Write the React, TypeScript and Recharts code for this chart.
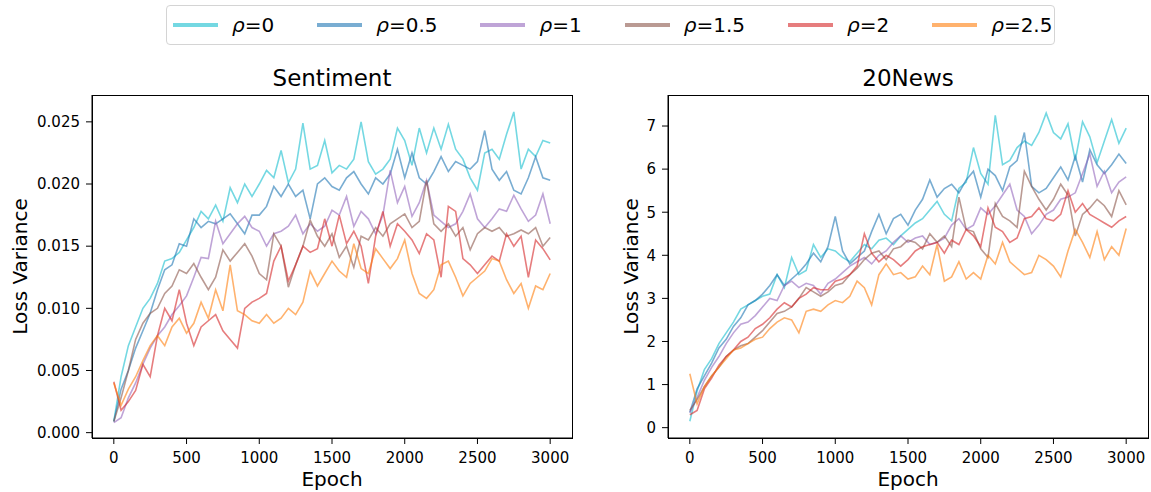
import { LineChart, Line, XAxis, YAxis } from "recharts"

const epochs = [
  0, 50, 100, 150, 200, 250, 300, 350, 400, 450,
  500, 550, 600, 650, 700, 750, 800, 850, 900, 950,
  1000, 1050, 1100, 1150, 1200, 1250, 1300, 1350, 1400, 1450,
  1500, 1550, 1600, 1650, 1700, 1750, 1800, 1850, 1900, 1950,
  2000, 2050, 2100, 2150, 2200, 2250, 2300, 2350, 2400, 2450,
  2500, 2550, 2600, 2650, 2700, 2750, 2800, 2850, 2900, 2950, 3000,
]

const rhoLabels = ["0", "0.5", "1", "1.5", "2", "2.5"]
const seriesColors = ["#17becf", "#1f77b4", "#9467bd", "#8c564b", "#d62728", "#ff7f0e"]

const xTicks = [0, 500, 1000, 1500, 2000, 2500, 3000]
const sentimentTicks = [0, 0.005, 0.01, 0.015, 0.02, 0.025]
const newsTicks = [0, 1, 2, 3, 4, 5, 6, 7]

// Sentiment
const sentimentRho0 = [
  0.0009, 0.0045, 0.007, 0.0085, 0.01, 0.0108, 0.012, 0.0138, 0.014, 0.0145,
  0.0155, 0.0165, 0.0178, 0.0172, 0.0183, 0.017, 0.0197, 0.0185, 0.02, 0.019,
  0.02, 0.0211, 0.0205, 0.0227, 0.0201, 0.0212, 0.0249, 0.0212, 0.0215, 0.0235,
  0.0209, 0.0215, 0.0212, 0.022, 0.025, 0.0218, 0.0208, 0.0212, 0.022, 0.0245,
  0.0235, 0.0215, 0.0245, 0.0225, 0.0245, 0.0228, 0.0248, 0.0228, 0.022, 0.0205,
  0.0195, 0.0225, 0.0228, 0.022, 0.024, 0.0258, 0.0212, 0.0228, 0.0222, 0.0235, 0.0233,
]
const sentimentRho05 = [
  0.0009, 0.0035, 0.005, 0.0068, 0.0082, 0.0096, 0.0115, 0.0131, 0.0135, 0.0152,
  0.015, 0.0172, 0.0165, 0.017, 0.0168, 0.0172, 0.0176, 0.0168, 0.016, 0.0175,
  0.0175, 0.0182, 0.0198, 0.019, 0.02, 0.019, 0.0195, 0.0172, 0.02, 0.0205,
  0.0198, 0.0195, 0.0205, 0.021, 0.02, 0.0192, 0.0205, 0.02, 0.0208, 0.0228,
  0.0205, 0.0225, 0.0205, 0.02, 0.021, 0.0222, 0.021, 0.0218, 0.0215, 0.0212,
  0.0218, 0.0243, 0.0212, 0.0203, 0.021, 0.0195, 0.0192, 0.0205, 0.0222, 0.0205, 0.0203,
]
const sentimentRho1 = [
  0.0008, 0.0012, 0.0028, 0.004, 0.0055, 0.0068, 0.0078, 0.0085, 0.0095, 0.0102,
  0.011, 0.0125, 0.0141, 0.014, 0.017, 0.0152, 0.016, 0.0168, 0.0174, 0.0165,
  0.0162, 0.015, 0.016, 0.0162, 0.0166, 0.0175, 0.016, 0.0168, 0.0162, 0.0166,
  0.0179, 0.0175, 0.019, 0.0166, 0.0178, 0.0172, 0.016, 0.0175, 0.0211, 0.0185,
  0.0198, 0.0174, 0.0185, 0.0203, 0.0175, 0.017, 0.0165, 0.0168, 0.0178, 0.0192,
  0.0172, 0.0165, 0.0172, 0.018, 0.0178, 0.0191, 0.018, 0.017, 0.0175, 0.0192, 0.0168,
]
const sentimentRho15 = [
  0.0009, 0.0028, 0.005, 0.0075, 0.0088, 0.0096, 0.01, 0.0112, 0.0118, 0.0131,
  0.0128, 0.0136, 0.0125, 0.0115, 0.0125, 0.0147, 0.0138, 0.0145, 0.0152, 0.0142,
  0.0128, 0.0123, 0.016, 0.015, 0.0117, 0.0135, 0.015, 0.0171, 0.0158, 0.015,
  0.016, 0.0141, 0.015, 0.0133, 0.0158, 0.0155, 0.0165, 0.0158, 0.0168, 0.0172,
  0.0176, 0.0165, 0.017, 0.0203, 0.0168, 0.0162, 0.0168, 0.0158, 0.0165, 0.0147,
  0.016, 0.0165, 0.0162, 0.0165, 0.0158, 0.016, 0.0163, 0.016, 0.0165, 0.015, 0.0157,
]
const sentimentRho2 = [
  0.0041, 0.0018, 0.0025, 0.0034, 0.0055, 0.0045, 0.0078, 0.01, 0.009, 0.0115,
  0.0088, 0.007, 0.0085, 0.009, 0.0095, 0.0082, 0.0075, 0.0068, 0.01, 0.0105,
  0.0108, 0.0112, 0.0138, 0.015, 0.0122, 0.0135, 0.015, 0.0145, 0.0148, 0.0172,
  0.015, 0.0175, 0.0152, 0.0162, 0.015, 0.012, 0.0158, 0.0178, 0.015, 0.0168,
  0.0162, 0.0155, 0.0144, 0.016, 0.0155, 0.0125, 0.0182, 0.0178, 0.014, 0.0135,
  0.0128, 0.0135, 0.0142, 0.0138, 0.016, 0.015, 0.0158, 0.0125, 0.0155, 0.0148, 0.0139,
]
const sentimentRho25 = [
  0.004, 0.0022, 0.0035, 0.0045, 0.0058, 0.007, 0.0078, 0.007, 0.0085, 0.0092,
  0.008, 0.0088, 0.0105, 0.0092, 0.0115, 0.0098, 0.0135, 0.0098, 0.0095, 0.009,
  0.0088, 0.0095, 0.0088, 0.0092, 0.01, 0.0095, 0.0105, 0.013, 0.0118, 0.0128,
  0.0138, 0.013, 0.0125, 0.0152, 0.0132, 0.0128, 0.0148, 0.014, 0.0132, 0.014,
  0.0155, 0.0128, 0.0112, 0.0108, 0.0115, 0.0135, 0.0138, 0.0125, 0.011, 0.012,
  0.0125, 0.013, 0.014, 0.0138, 0.0123, 0.0112, 0.012, 0.01, 0.0118, 0.0115, 0.0128,
]

// 20News
const newsRho0 = [
  0.15, 0.85, 1.35, 1.6, 1.95, 2.2, 2.45, 2.75, 2.85, 2.95,
  3.05, 3.1, 3.55, 3.25, 3.95, 3.55, 3.65, 4.25, 3.95, 4.15,
  4.1, 3.95, 3.85, 4.05, 4.25, 4.15, 4.35, 4.4, 4.25, 4.45,
  4.6, 4.75, 4.85, 5.05, 5.25, 4.95, 4.8, 5.55, 5.7, 6.5,
  5.9, 5.65, 7.25, 6.1, 6.2, 6.5, 6.65, 6.55, 6.85, 7.3,
  6.85, 6.7, 7.05, 6.2, 7.1, 6.75, 6.15, 6.65, 7.15, 6.6, 6.95,
]
const newsRho05 = [
  0.35, 0.9, 1.2, 1.5, 1.85, 2.05, 2.35, 2.55, 2.85, 2.95,
  3.1, 3.3, 3.55, 3.3, 3.45, 3.6, 3.8, 4.05, 3.85, 4.2,
  4.9, 4.1, 3.8, 3.95, 4.1, 4.55, 4.95, 4.5, 4.85, 4.95,
  4.7, 5.05, 5.3, 5.75, 5.35, 5.55, 5.65, 5.45, 5.75, 5.95,
  5.35, 6.0, 5.85, 5.5, 6.05, 6.2, 6.85, 5.6, 5.45, 5.55,
  5.8, 6.05, 5.75, 6.3, 5.7, 6.45, 6.1, 5.9, 6.1, 6.35, 6.13,
]
const newsRho1 = [
  0.35, 0.7, 1.1, 1.4, 1.65, 1.95, 2.2, 2.4, 2.45, 2.6,
  2.8, 3.0, 2.95, 3.3, 3.4, 3.25, 3.35, 3.3, 3.1, 3.35,
  3.45, 3.6, 3.75, 3.85, 3.95, 3.8, 4.0, 4.1, 4.3, 4.45,
  4.3, 4.4, 4.45, 4.25, 4.3, 4.4, 4.7, 4.85, 4.6, 4.7,
  5.1, 4.95, 5.15, 5.4, 5.65, 5.05, 4.9, 4.5, 4.7, 4.95,
  5.05, 5.3, 5.35, 5.45, 5.9, 6.35, 5.6, 5.95, 5.45, 5.7, 5.82,
]
const newsRho15 = [
  0.4, 0.65, 0.95, 1.2, 1.4, 1.65, 1.8, 1.9, 1.95, 2.1,
  2.25, 2.45, 2.65, 2.7, 2.8, 3.0, 3.25, 3.15, 3.05, 3.15,
  3.3, 3.35, 3.55, 3.7, 3.9, 4.05, 4.1, 3.9, 4.15, 4.2,
  4.35, 4.3, 4.15, 4.5, 4.3, 4.45, 4.2, 5.35, 4.6, 4.55,
  4.15, 3.95, 5.2, 4.9, 4.8, 4.65, 5.95, 5.6, 5.3, 5.05,
  5.3, 5.65, 5.4, 4.45, 4.95, 5.1, 5.3, 5.15, 4.9, 5.5, 5.17,
]
const newsRho2 = [
  0.3, 0.4, 0.9, 1.15, 1.45, 1.65, 1.8, 2.0, 2.1, 2.3,
  2.4, 2.55, 2.75, 2.9, 2.8, 3.0, 3.1, 3.25, 3.2, 3.2,
  3.4, 3.45, 3.55, 3.75, 4.5, 4.05, 3.85, 4.0, 3.9, 3.75,
  3.9, 4.1, 4.2, 4.25, 4.3, 4.05, 4.35, 4.25, 4.6, 4.45,
  4.2, 5.1, 4.65, 4.55, 4.3, 4.4, 4.85, 4.9, 5.1, 4.85,
  4.8, 4.95, 5.5, 5.0, 5.2, 4.95, 4.85, 4.75, 4.65, 4.8, 4.9,
]
const newsRho25 = [
  1.25, 0.55, 0.95, 1.2, 1.4, 1.6, 1.8, 1.85, 1.95, 2.05,
  2.1, 2.3, 2.45, 2.55, 2.5, 2.2, 2.7, 2.75, 2.7, 2.85,
  2.95, 2.9, 3.05, 3.4, 3.25, 2.85, 3.55, 3.8, 3.55, 3.6,
  3.45, 3.5, 3.75, 3.55, 4.25, 3.4, 3.5, 3.85, 3.45, 3.6,
  3.45, 4.0, 3.8, 4.3, 3.85, 3.7, 3.55, 3.6, 4.0, 3.9,
  3.75, 3.5, 4.1, 4.6, 4.3, 3.95, 4.55, 3.9, 4.2, 4.0, 4.62,
]

const sentimentSeries = [sentimentRho0, sentimentRho05, sentimentRho1, sentimentRho15, sentimentRho2, sentimentRho25]
const newsSeries = [newsRho0, newsRho05, newsRho1, newsRho15, newsRho2, newsRho25]

function buildRows(series: number[][]) {
  return epochs.map((epoch, i) => {
    const row: Record<string, number> = { epoch }
    series.forEach((values, k) => {
      row[`s${k}`] = values[i]
    })
    return row
  })
}

const sentimentData = buildRows(sentimentSeries)
const newsData = buildRows(newsSeries)

const tickStyle = { fill: "#000", fontSize: 15 }
const black = { stroke: "#000" }

type PanelProps = {
  left: number
  width: number
  marginRight: number
  data: Record<string, number>[]
  yDomain: [number, number]
  yTicks: number[]
  yFormat: (v: number) => string
}

function Panel({ left, width, marginRight, data, yDomain, yTicks, yFormat }: PanelProps) {
  return (
    <div style={{ position: "absolute", left, top: 0 }}>
      <LineChart width={width} height={492} data={data} margin={{ top: 95, right: marginRight, bottom: 24, left: 32 }}>
        <XAxis
          dataKey="epoch"
          type="number"
          domain={[-150, 3150]}
          ticks={xTicks}
          allowDataOverflow
          height={30}
          tickSize={6}
          tickMargin={8}
          tick={tickStyle}
          axisLine={black}
          tickLine={black}
        />
        <YAxis
          type="number"
          domain={yDomain}
          ticks={yTicks}
          allowDataOverflow
          width={60}
          tickSize={6}
          tickMargin={6}
          tick={tickStyle}
          tickFormatter={yFormat}
          axisLine={black}
          tickLine={black}
        />
        {seriesColors.map((color, k) => (
          <Line
            key={k}
            type="linear"
            dataKey={`s${k}`}
            stroke={color}
            strokeOpacity={0.6}
            strokeWidth={1.6}
            dot={false}
            activeDot={false}
            isAnimationActive={false}
          />
        ))}
      </LineChart>
    </div>
  )
}

function LegendBox() {
  return (
    <div
      style={{
        position: "absolute",
        left: 166,
        top: 5,
        width: 889,
        height: 40,
        boxSizing: "border-box",
        border: "1px solid #d4d4d4",
        borderRadius: 4,
        background: "#fff",
        display: "flex",
        alignItems: "center",
        paddingLeft: 6,
        fontSize: 20,
        color: "#000",
      }}
    >
      {rhoLabels.map((label, k) => (
        <div key={label} style={{ display: "flex", alignItems: "center", marginRight: k < rhoLabels.length - 1 ? 43 : 0 }}>
          <span style={{ display: "inline-block", width: 45, height: 4, background: seriesColors[k], opacity: 0.6, marginRight: 14 }} />
          <span>
            <span style={{ fontStyle: "italic" }}>ρ</span>={label}
          </span>
        </div>
      ))}
    </div>
  )
}

export default function App() {
  return (
    <div
      style={{
        position: "absolute",
        left: 0,
        top: 0,
        width: 1151,
        height: 492,
        background: "#fff",
        fontFamily: "'DejaVu Sans', sans-serif",
        overflow: "hidden",
      }}
    >
      <Panel
        left={0}
        width={580}
        marginRight={8}
        data={sentimentData}
        yDomain={[-0.00043, 0.02716]}
        yTicks={sentimentTicks}
        yFormat={(v) => v.toFixed(3)}
      />
      <Panel
        left={576}
        width={575}
        marginRight={3}
        data={newsData}
        yDomain={[-0.24, 7.72]}
        yTicks={newsTicks}
        yFormat={(v) => String(v)}
      />
      <svg width={1151} height={492} style={{ position: "absolute", left: 0, top: 0, pointerEvents: "none" }}>
        {/* axes frames */}
        <rect x={92.5} y={95.5} width={480} height={343} fill="none" stroke="#000" strokeWidth={1} />
        <rect x={668.5} y={95.5} width={480} height={343} fill="none" stroke="#000" strokeWidth={1} />
        <g fontFamily="'DejaVu Sans', sans-serif" fill="#000">
          <text x={332} y={85.5} fontSize={23} textAnchor="middle">Sentiment</text>
          <text x={908} y={85.5} fontSize={23} textAnchor="middle">20News</text>
          <text x={332} y={486} fontSize={20} textAnchor="middle">Epoch</text>
          <text x={908} y={486} fontSize={20} textAnchor="middle">Epoch</text>
          <text x={27} y={266.5} fontSize={20} textAnchor="middle" transform="rotate(-90 27 266.5)">Loss Variance</text>
          <text x={638} y={266.5} fontSize={20} textAnchor="middle" transform="rotate(-90 638 266.5)">Loss Variance</text>
        </g>
      </svg>
      <LegendBox />
    </div>
  )
}
